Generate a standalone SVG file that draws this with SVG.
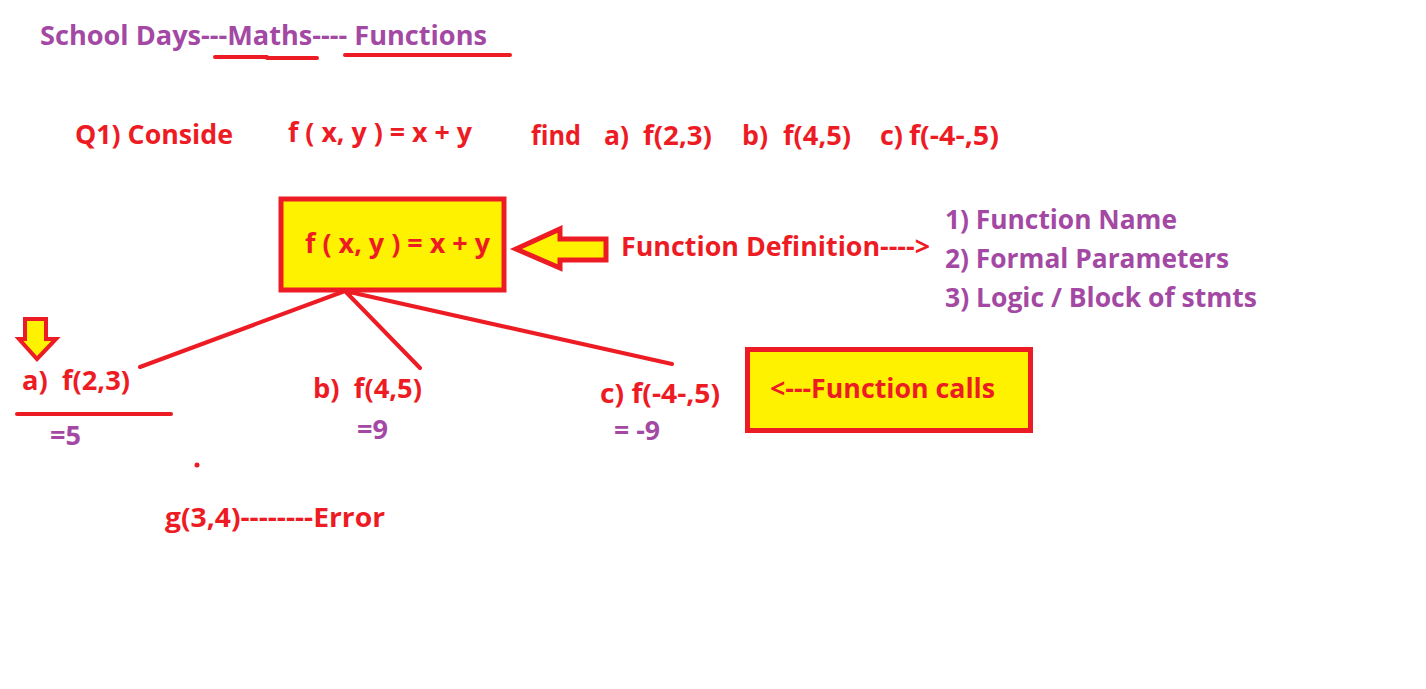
<svg xmlns="http://www.w3.org/2000/svg" width="1426" height="689" viewBox="0 0 1426 689">
<style>
.t{font-family:"Open Sans","Liberation Sans",sans-serif;font-weight:bold;font-size:26px}
.r{fill:#ED1C24}
.p{fill:#A349A4}
.ln{stroke:#ED1C24;stroke-width:4;stroke-linecap:round;fill:none}
.bx{fill:#FFF200;stroke:#ED1C24;stroke-width:5}
</style>
<rect width="1426" height="689" fill="#fff"/>
<g id="title">
<text class="t p" x="40" y="45" textLength="447" lengthAdjust="spacingAndGlyphs">School Days---Maths---- Functions</text>
<path class="ln" d="M215 57 H267 M267 58 H317 M345 55 H510"/>
</g>
<g id="question">
<text class="t r" x="75" y="144" textLength="158" lengthAdjust="spacingAndGlyphs">Q1) Conside</text>
<text class="t r" x="288" y="142" textLength="184" lengthAdjust="spacingAndGlyphs">f ( x, y ) = x + y</text>
<text class="t r" x="531" y="145" textLength="50" lengthAdjust="spacingAndGlyphs">find</text>
<text class="t r" x="604" y="145" textLength="25" lengthAdjust="spacingAndGlyphs">a)</text>
<text class="t r" x="643" y="145" textLength="69" lengthAdjust="spacingAndGlyphs">f(2,3)</text>
<text class="t r" x="742" y="145" textLength="26" lengthAdjust="spacingAndGlyphs">b)</text>
<text class="t r" x="783" y="145" textLength="68" lengthAdjust="spacingAndGlyphs">f(4,5)</text>
<text class="t r" x="880" y="145" textLength="23" lengthAdjust="spacingAndGlyphs">c)</text>
<text class="t r" x="909" y="145" textLength="90" lengthAdjust="spacingAndGlyphs">f(-4-,5)</text>
</g>
<g id="definition">
<rect class="bx" x="281" y="199" width="223" height="91"/>
<text class="t r" x="305" y="253" textLength="185" lengthAdjust="spacingAndGlyphs">f ( x, y ) = x + y</text>
</g>
<g id="def-arrow">
<polygon class="bx" points="516,249 560,229 560,239 606,239 606,260 560,260 560,268"/>
</g>
<g id="def-label">
<text class="t r" x="621" y="256" textLength="309" lengthAdjust="spacingAndGlyphs">Function Definition----&gt;</text>
</g>
<g id="def-list">
<text class="t p" x="945" y="229" textLength="232" lengthAdjust="spacingAndGlyphs">1) Function Name</text>
<text class="t p" x="945" y="268" textLength="284" lengthAdjust="spacingAndGlyphs">2) Formal Parameters</text>
<text class="t p" x="945" y="307" textLength="312" lengthAdjust="spacingAndGlyphs">3) Logic / Block of stmts</text>
</g>
<g id="connectors">
<path class="ln" d="M345 291 L140 367 M345 291 L420 368 M345 291 L672 364"/>
</g>
<g id="down-arrow">
<polygon fill="#FFF200" stroke="#ED1C24" stroke-width="4" points="25,319 46,319 46,339 56,339 37,359 19,339 25,339"/>
</g>
<g id="call-a">
<text class="t r" x="22" y="390" xml:space="preserve" textLength="108" lengthAdjust="spacingAndGlyphs">a)  f(2,3)</text>
<path class="ln" d="M17 414 H171"/>
<text class="t p" x="50" y="445" textLength="31" lengthAdjust="spacingAndGlyphs">=5</text>
</g>
<g id="call-b">
<text class="t r" x="313" y="398" xml:space="preserve" textLength="109" lengthAdjust="spacingAndGlyphs">b)  f(4,5)</text>
<text class="t p" x="357" y="439" textLength="31" lengthAdjust="spacingAndGlyphs">=9</text>
</g>
<g id="call-c">
<text class="t r" x="600" y="403" font-size="30" textLength="120" lengthAdjust="spacingAndGlyphs">c) f(-4-,5)</text>
<text class="t p" x="614" y="440" textLength="46" lengthAdjust="spacingAndGlyphs">= -9</text>
</g>
<g id="calls-box">
<rect class="bx" x="747.5" y="349.5" width="283" height="81"/>
<text class="t r" x="770" y="398" textLength="225" lengthAdjust="spacingAndGlyphs">&lt;---Function calls</text>
</g>
<g id="error">
<circle cx="197" cy="465" r="2.5" fill="#ED1C24"/>
<text class="t r" x="165" y="527" textLength="220" lengthAdjust="spacingAndGlyphs">g(3,4)--------Error</text>
</g>
</svg>
